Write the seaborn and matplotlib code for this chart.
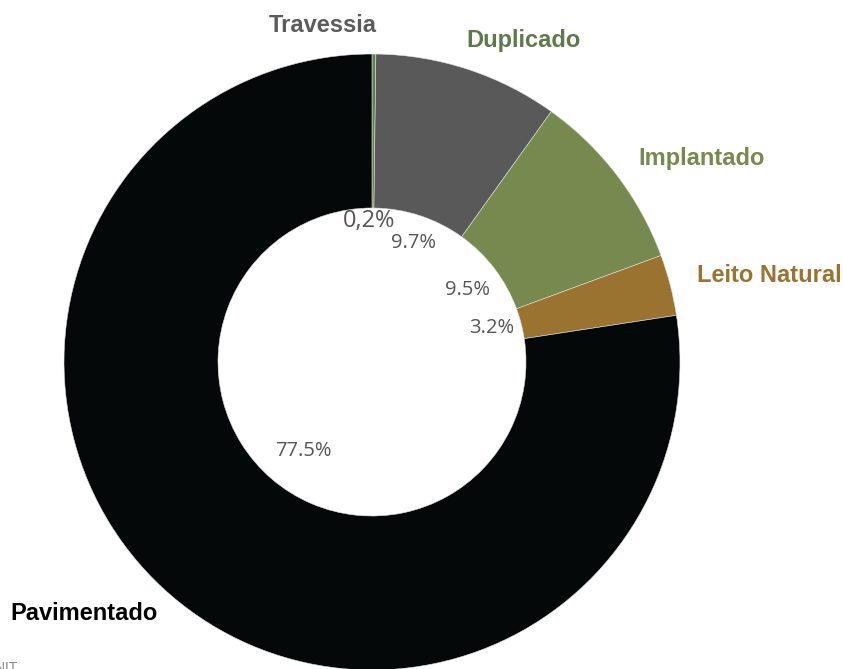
import matplotlib
matplotlib.use("Agg")
import matplotlib.pyplot as plt
import seaborn as sns
import numpy as np

# data
categorias = ["Travessia", "Duplicado", "Implantado", "Leito Natural", "Pavimentado"]
valores = [0.2, 9.7, 9.5, 3.2, 77.5]
rotulos_pct = ["0,2%", "9.7%", "9.5%", "3.2%", "77.5%"]

cores_fatia = ["#5d7f4c", "#595959", "#76894f", "#9b7330", "#040808"]
cores_texto = ["#5b5b5b", "#5e7a4a", "#76894f", "#9b7330", "#000000"]
# label positions in pixels (x, y from top)
pos_rotulos = [(323, 25), (523, 41), (702, 158), (769, 276), (84, 613)]
pos_pct = [(369, 221), (413, 243), (468, 290), (492, 328), (303, 451)]

sns.set_theme(style="white")
plt.rcParams["font.family"] = ["Liberation Sans", "DejaVu Sans"]

W, H = 843, 669
fig = plt.figure(figsize=(W / 100, H / 100), dpi=100)
ax = fig.add_axes([0, 0, 1, 1])

cx, cy, R = 372, H - 362, 308

wedges, _ = ax.pie(
    valores, colors=cores_fatia, startangle=90, counterclock=False,
    center=(cx, cy), radius=R, frame=True,
    wedgeprops=dict(width=R * 0.5, edgecolor="#e0e0e0", linewidth=0.4))
ax.set_xlim(0, W)
ax.set_ylim(0, H)
ax.set_aspect("equal")
ax.axis("off")

for i, (txt, (x, y)) in enumerate(zip(rotulos_pct, pos_pct)):
    ax.text(x, H - y, txt, color="#555555", fontsize=17 if i == 0 else 14.5,
            family="Open Sans", ha="center", va="center")

for nome, cor, (x, y) in zip(categorias, cores_texto, pos_rotulos):
    ax.text(x, H - y, nome, color=cor, fontsize=17, fontweight="bold",
            ha="center", va="center")

fig.text(-0.017, 0.012, "DNIT", color="#888888", fontsize=10, va="top", ha="left")

fig.savefig("out.png", dpi=100)
